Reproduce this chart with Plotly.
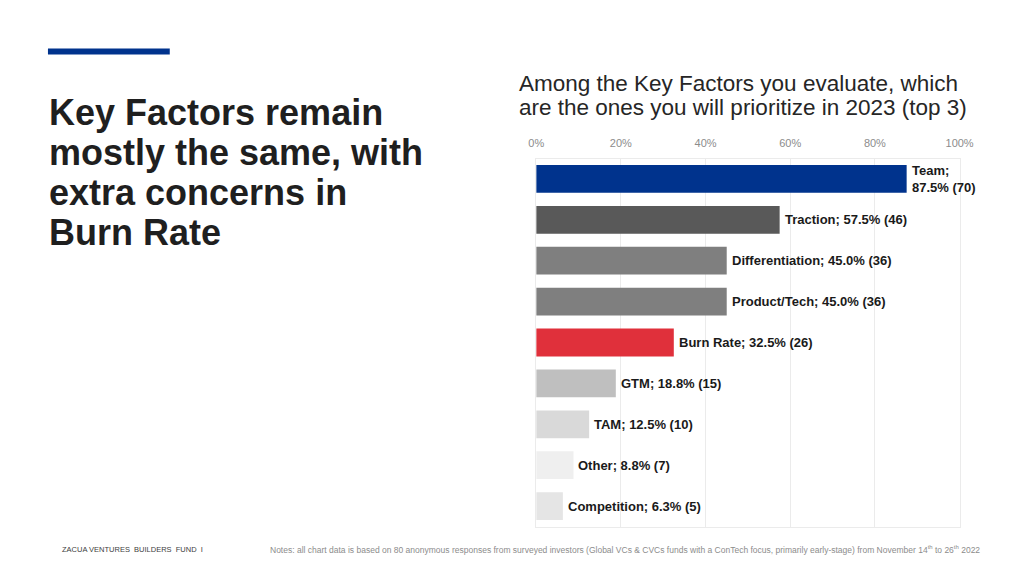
import plotly.graph_objects as go

categories = ["Team", "Traction", "Differentiation", "Product/Tech", "Burn Rate",
              "GTM", "TAM", "Other", "Competition"]
percent = [87.5, 57.5, 45.0, 45.0, 32.5, 18.8, 12.5, 8.8, 6.3]
counts = [70, 46, 36, 36, 26, 15, 10, 7, 5]
colors = ["#00338D", "#595959", "#7F7F7F", "#7F7F7F", "#E0303B",
          "#BFBFBF", "#D9D9D9", "#EFEFEF", "#E5E5E5"]
tick_vals = [0, 20, 40, 60, 80, 100]
tick_text = ["0%", "20%", "40%", "60%", "80%", "100%"]

W, H = 1024, 576


def px(x):
    # compensate for observed horizontal offset/scale of the rendered page
    return ((x - 16) / 0.98) / W


def py(y):
    return 1 - (y - 7.5) / H


fig = go.Figure()
fig.add_trace(go.Bar(
    x=percent, y=categories, orientation="h",
    marker=dict(color=colors, line=dict(width=0)),
    width=0.68, hoverinfo="skip",
))

for c, p, n in zip(categories, percent, counts):
    sep = ";<br>" if c == "Team" else "; "
    fig.add_annotation(
        x=p, y=c, xref="x", yref="y", xanchor="left", yanchor="middle",
        text=f"<b>{c}{sep}{p:.1f}% ({n})</b>", showarrow=False, align="left",
        xshift=3, font=dict(family="Liberation Sans, Arial", size=13, color="#1a1a1a"),
    )

fig.update_layout(
    width=W, height=H, margin=dict(l=0, r=0, t=0, b=0),
    paper_bgcolor="white", plot_bgcolor="white", showlegend=False,
    font=dict(family="Liberation Sans, Arial"),
    xaxis=dict(domain=[px(537), px(961)], range=[0, 100], side="top",
               tickvals=tick_vals, ticktext=tick_text,
               tickfont=dict(size=11, color="#8C8C8C"),
               showgrid=True, gridcolor="#EBEBEB", gridwidth=1,
               showline=True, linecolor="#EBEBEB", mirror=True,
               zeroline=False, ticks="", ticklabelstandoff=6, fixedrange=True),
    yaxis=dict(domain=[py(526), py(158)], autorange="reversed",
               showticklabels=False, showgrid=False, zeroline=False,
               showline=True, linecolor="#EBEBEB", mirror=True, fixedrange=True),
)

# Decorative blue rule
fig.add_shape(type="rect", xref="paper", yref="paper",
              x0=px(48), x1=px(170), y0=py(54), y1=py(48),
              fillcolor="#00338D", line=dict(width=0))

title_lines = ["Key Factors remain", "mostly the same, with", "extra concerns in", "Burn Rate"]
title_y = [112, 152, 192, 232]
for t, yy in zip(title_lines, title_y):
    fig.add_annotation(
        xref="paper", yref="paper", x=px(47), y=py(yy), xanchor="left", yanchor="middle",
        text=f"<b>{t}</b>", showarrow=False, align="left",
        font=dict(family="Liberation Sans, Arial", size=36, color="#1F1F1F"),
    )

sub_lines = ["Among the Key Factors you evaluate, which",
             "are the ones you will prioritize in 2023 (top 3)"]
sub_y = [83, 107]
for t, yy in zip(sub_lines, sub_y):
    fig.add_annotation(
        xref="paper", yref="paper", x=px(518), y=py(yy), xanchor="left", yanchor="middle",
        text=t, showarrow=False, align="left",
        font=dict(family="Liberation Sans, Arial", size=22.5, color="#262626"),
    )

fig.add_annotation(
    xref="paper", yref="paper", x=px(60), y=py(549), xanchor="left", yanchor="middle",
    text="ZACUA VENTURES  BUILDERS  FUND  I",
    showarrow=False, font=dict(family="Liberation Sans Narrow, Liberation Sans, Arial", size=7.5, color="#404040"),
)

fig.add_annotation(
    xref="paper", yref="paper", x=px(268), y=py(549), xanchor="left", yanchor="middle",
    text=("Notes: all chart data is based on 80 anonymous responses from surveyed investors "
          "(Global VCs & CVCs funds with a ConTech focus, primarily early-stage) from November "
          "14<sup>th</sup> to 26<sup>th</sup> 2022"),
    showarrow=False, font=dict(family="Liberation Sans Narrow, Liberation Sans, Arial", size=8.5, color="#8C8C8C"),
)

fig.write_html("out.html")
